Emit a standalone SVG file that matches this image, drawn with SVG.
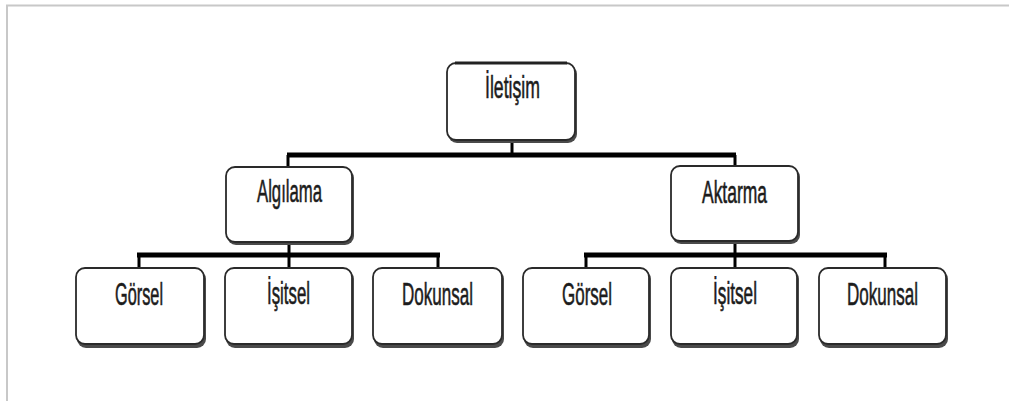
<svg xmlns="http://www.w3.org/2000/svg" width="1009" height="401" viewBox="0 0 1009 401">
<style>
.shadow{fill:#4a4a4a}
.box{fill:#fff;stroke:#2a2a2a;stroke-width:1.8}
.lbl{font-family:"Liberation Sans",Arial,sans-serif;font-size:32px;fill:#1c1c1c;stroke:#1c1c1c;stroke-width:0.6;text-anchor:middle}
.bus{stroke:#000;stroke-width:5;fill:none}
.drop{stroke:#000;stroke-width:3;fill:none}
.frame{stroke:#c8c8c8;stroke-width:2;fill:none}
</style>
<rect width="1009" height="401" fill="#fff"/>
<path class="frame" d="M7,401 V5.5 H1009"/>
<g id="connectors">
<line class="drop" x1="512" y1="141" x2="512" y2="155"/>
<line class="bus" x1="287" y1="155" x2="736" y2="155"/>
<line class="drop" x1="288" y1="155" x2="288" y2="168"/>
<line class="drop" x1="735" y1="155" x2="735" y2="167"/>
<line class="drop" x1="289" y1="243" x2="289" y2="255"/>
<line class="bus" x1="137" y1="255" x2="440" y2="255"/>
<line class="drop" x1="139" y1="255" x2="139" y2="269"/>
<line class="drop" x1="289" y1="255" x2="289" y2="269"/>
<line class="drop" x1="438" y1="255" x2="438" y2="269"/>
<line class="drop" x1="735" y1="242" x2="735" y2="255"/>
<line class="bus" x1="584" y1="255" x2="887" y2="255"/>
<line class="drop" x1="586" y1="255" x2="586" y2="269"/>
<line class="drop" x1="735" y1="255" x2="735" y2="269"/>
<line class="drop" x1="885" y1="255" x2="885" y2="269"/>
</g>
<g id="n-iletisim">
<rect class="shadow" x="448" y="65" width="129" height="78" rx="9"/>
<rect class="box" x="447" y="63" width="128" height="77" rx="9"/>
<line x1="455" y1="63" x2="567" y2="63" stroke="#222" stroke-width="3"/>
<text class="lbl" x="512.5" y="98" textLength="55" lengthAdjust="spacingAndGlyphs">İletişim</text>
</g>
<g id="n-algilama">
<rect class="shadow" x="227" y="169" width="127" height="76" rx="9"/>
<rect class="box" x="226" y="167" width="126" height="75" rx="9"/>
<text class="lbl" x="289.5" y="202" textLength="65" lengthAdjust="spacingAndGlyphs">Algılama</text>
</g>
<g id="n-aktarma">
<rect class="shadow" x="672" y="168" width="128" height="76" rx="9"/>
<rect class="box" x="671" y="166" width="127" height="75" rx="9"/>
<text class="lbl" x="734.5" y="203" textLength="65" lengthAdjust="spacingAndGlyphs">Aktarma</text>
</g>
<g id="n-gorsel-1">
<rect class="shadow" x="77" y="270" width="129" height="78" rx="9"/>
<rect class="box" x="76" y="268" width="128" height="76" rx="9"/>
<text class="lbl" x="139" y="305" textLength="48" lengthAdjust="spacingAndGlyphs">Görsel</text>
</g>
<g id="n-isitsel-1">
<rect class="shadow" x="226" y="270" width="128" height="78" rx="9"/>
<rect class="box" x="225" y="268" width="127" height="76" rx="9"/>
<text class="lbl" x="288.5" y="304" textLength="43" lengthAdjust="spacingAndGlyphs">İşitsel</text>
</g>
<g id="n-dokunsal-1">
<rect class="shadow" x="374" y="270" width="130" height="78" rx="9"/>
<rect class="box" x="373" y="268" width="129" height="76" rx="9"/>
<text class="lbl" x="437.5" y="305" textLength="71" lengthAdjust="spacingAndGlyphs">Dokunsal</text>
</g>
<g id="n-gorsel-2">
<rect class="shadow" x="524" y="270" width="127" height="78" rx="9"/>
<rect class="box" x="523" y="268" width="126" height="76" rx="9"/>
<text class="lbl" x="587" y="305" textLength="50" lengthAdjust="spacingAndGlyphs">Görsel</text>
</g>
<g id="n-isitsel-2">
<rect class="shadow" x="672" y="270" width="127" height="78" rx="9"/>
<rect class="box" x="671" y="268" width="126" height="76" rx="9"/>
<text class="lbl" x="735" y="304" textLength="44" lengthAdjust="spacingAndGlyphs">İşitsel</text>
</g>
<g id="n-dokunsal-2">
<rect class="shadow" x="820" y="270" width="128" height="78" rx="9"/>
<rect class="box" x="819" y="268" width="127" height="76" rx="9"/>
<text class="lbl" x="882.5" y="305" textLength="71" lengthAdjust="spacingAndGlyphs">Dokunsal</text>
</g>
</svg>
